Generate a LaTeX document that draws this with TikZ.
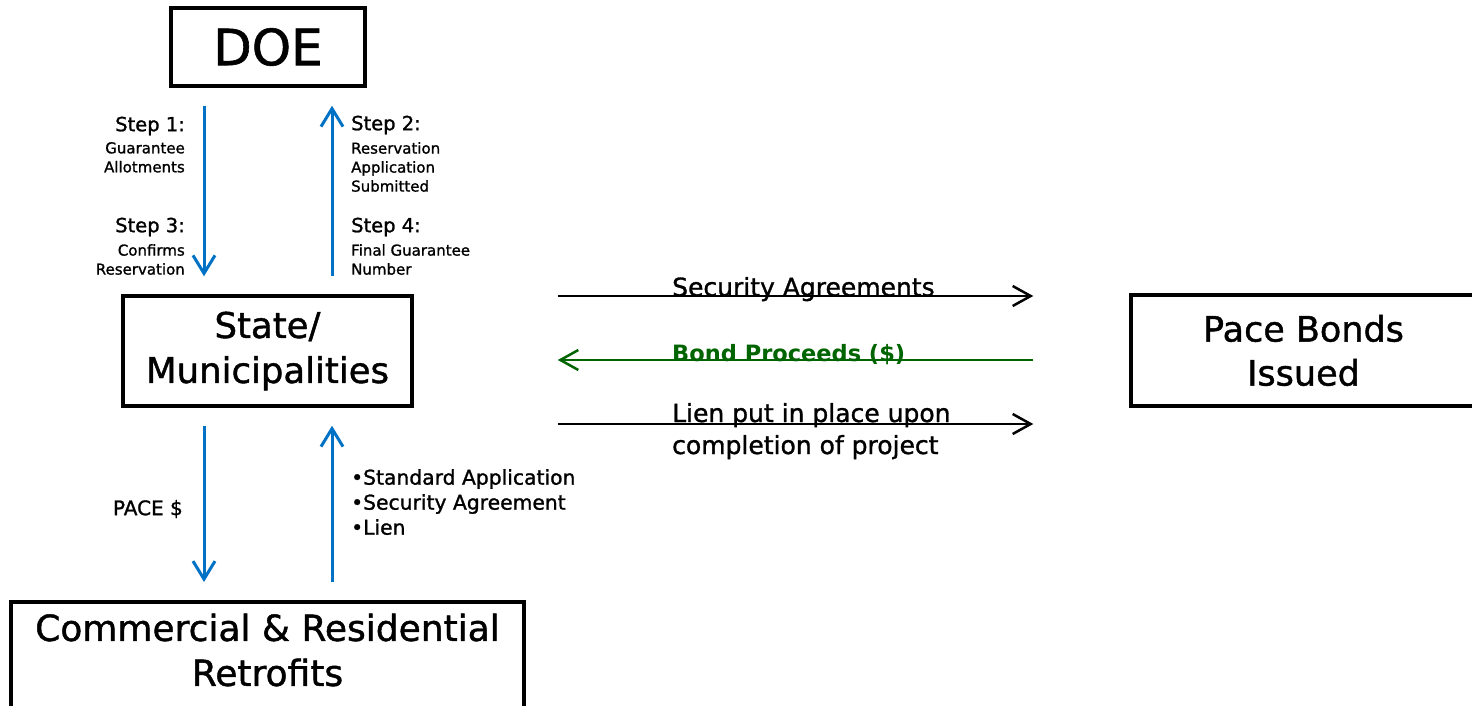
\documentclass[tikz,border=0pt]{standalone}
\usepackage{fontspec}
\setmainfont{DejaVu Sans}[UprightFeatures={FakeBold=1.2}]
\usetikzlibrary{arrows.meta,calc}
\definecolor{arrowblue}{RGB}{0,114,198}
\definecolor{bondgreen}{RGB}{0,100,0}
\tikzset{
  box/.style={draw=black,line width=3.5pt,rectangle,inner sep=0pt,align=center},
  barrow/.style={draw=arrowblue,line width=3pt,-{Straight Barb[length=18pt,width=22pt,line width=3pt]},shorten >=18pt,shorten <=18pt},
  karrow/.style={draw=black,line width=2.5pt,-{Straight Barb[length=18pt,width=20pt,line width=2.5pt]}},
  garrow/.style={draw=bondgreen,line width=2.5pt,-{Straight Barb[length=18pt,width=20pt,line width=2.5pt]}},
  steptitle/.style={font=\fontsize{19.5}{22}\selectfont,inner sep=0pt},
  stepsub/.style={font=\fontsize{15}{19}\selectfont,inner sep=0pt},
  flowlbl/.style={font=\fontsize{25}{32}\selectfont,inner sep=0pt,anchor=base west,align=left},
}
\begin{document}
\begin{tikzpicture}[x=1pt,y=-1pt]
\useasboundingbox (0,0) rectangle (1472,706);
% boxes
\node[box,minimum width=194pt,minimum height=78pt,font=\fontsize{50}{56}\selectfont] (doe) at (268,47) {DOE};
\node[box,minimum width=289pt,minimum height=110pt,font=\fontsize{35.5}{45}\selectfont] (st) at (267.5,351) {State/\\Municipalities};
\node[box,minimum width=345pt,minimum height=111pt,font=\fontsize{35}{44}\selectfont] (pb) at (1303.5,350.5) {Pace Bonds\\Issued};
\node[box,minimum width=513pt,minimum height=120pt,anchor=north] (cr) at (267.5,600) {};
\node[font=\fontsize{36}{45}\selectfont,align=center,inner sep=0pt] (crt) at (267.5,650) {Commercial \& Residential\\Retrofits};
% vertical arrows
\draw[barrow] ([xshift=-64pt]doe.south) -- ([xshift=-63.5pt]st.north);
\draw[barrow] ([xshift=64.5pt]st.north) -- ([xshift=64pt]doe.south);
\draw[barrow] ([xshift=-63.5pt]st.south) -- ([xshift=-63.5pt]cr.north);
\draw[barrow] ([xshift=64.5pt]cr.north) -- ([xshift=64.5pt]st.south);
% step labels
\node[steptitle,anchor=east] (s1) at (185,126) {Step 1:};
\node[stepsub,anchor=north east,align=right] (s1t) at (185,142) {Guarantee\\Allotments};
\node[steptitle,anchor=east] (s3) at (185,227) {Step 3:};
\node[stepsub,anchor=north east,align=right] (s3t) at (185,244) {Confirms\\Reservation};
\node[steptitle,anchor=west] (s2) at (351,125) {Step 2:};
\node[stepsub,anchor=north west,align=left] (s2t) at (351,142) {Reservation\\Application\\Submitted};
\node[steptitle,anchor=west] (s4) at (351,227) {Step 4:};
\node[stepsub,anchor=north west,align=left] (s4t) at (351,244) {Final Guarantee\\Number};
% lower labels
\node[font=\fontsize{20}{24}\selectfont,anchor=east,inner sep=0pt] (pace) at (183,509) {PACE \$};
\node[font=\fontsize{20.3}{25}\selectfont,anchor=north west,align=left,inner sep=0pt] (docs) at (351,469) {•Standard Application\\•Security Agreement\\•Lien};
% horizontal arrows
\draw[karrow] ($(st.east)+(144,-55)$) -- ($(pb.west)+(-96,-54.5)$);
\draw[garrow] ($(pb.west)+(-96,9.5)$) -- ($(st.east)+(144,9)$);
\draw[karrow] ($(st.east)+(144,73)$) -- ($(pb.west)+(-96,73.5)$);
\node[flowlbl] (sa) at (672,296) {Security Agreements};
\node[flowlbl,text=bondgreen,font=\fontsize{22.5}{32}\selectfont\bfseries] (bp) at (672,361) {Bond Proceeds (\$)};
\node[flowlbl] (lien1) at (672,422) {Lien put in place upon};
\node[flowlbl] (lien2) at (672,454) {completion of project};
\end{tikzpicture}
\end{document}
